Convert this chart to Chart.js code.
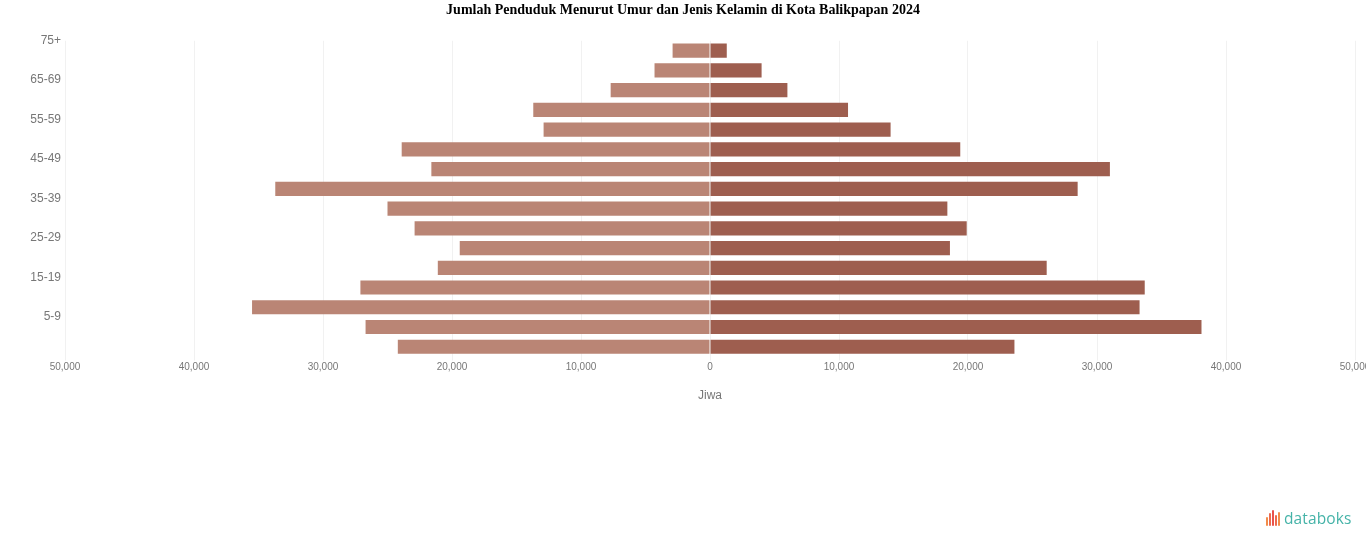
<!DOCTYPE html>
<html>
<head>
<meta charset="utf-8">
<script src="https://cdn.jsdelivr.net/npm/chart.js@4.4.0/dist/chart.umd.min.js"></script>
<style>
  html, body { margin: 0; padding: 0; background: #fff; }
  #wrap { position: relative; width: 1366px; height: 547px; }
  #logo { position: absolute; left: 1266px; top: 507px; height: 22px; display: flex; align-items: center; }
  #logo .icon { display: flex; align-items: flex-end; height: 16px; margin-right: 3px; }
  #logo .icon span { display: inline-block; width: 2px; margin-right: 1px; background: #ef5a4b; border-radius: 1px; }
  #logo .txt { font-family: "Open Sans", sans-serif; font-size: 15.5px; color: #45b3a8; letter-spacing: 0.1px; }
</style>
</head>
<body>
<div id="wrap">
  <canvas id="chart" width="1366" height="547"></canvas>
  <div id="logo">
    <div class="icon">
      <span style="height:9px;background:#f28c4a"></span>
      <span style="height:13px;background:#ee6a4d"></span>
      <span style="height:16px;background:#e9524b"></span>
      <span style="height:11px;background:#ee6a4d"></span>
      <span style="height:14px;background:#f28c4a"></span>
    </div>
    <div class="txt">databoks</div>
  </div>
</div>
<script>
// age groups, top row first
const ageGroups = ["75+", "70-74", "65-69", "60-64", "55-59", "50-54", "45-49", "40-44",
  "35-39", "30-34", "25-29", "20-24", "15-19", "10-14", "5-9", "0-4"]

// population (jiwa)
const lakiLaki = [2900, 4300, 7700, 13700, 12900, 23900, 21600, 33700,
  25000, 22900, 19400, 21100, 27100, 35500, 26700, 24200]
const perempuan = [1300, 4000, 6000, 10700, 14000, 19400, 31000, 28500,
  18400, 19900, 18600, 26100, 33700, 33300, 38100, 23600]

const xTicks = [-50000, -40000, -30000, -20000, -10000, 0, 10000, 20000, 30000, 40000, 50000]

const ctx = document.getElementById('chart').getContext('2d')
new Chart(ctx, {
  type: 'bar',
  data: {
    labels: ageGroups,
    datasets: [{
      label: 'Laki-laki',
      data: lakiLaki.map(v => -v),
      backgroundColor: 'rgb(186, 133, 117)'
    }, {
      label: 'Perempuan',
      data: perempuan,
      backgroundColor: 'rgb(158, 94, 79)'
    }]
  },
  options: {
    indexAxis: 'y',
    responsive: false,
    animation: false,
    layout: { padding: { left: 0, right: 0, bottom: 140 } },
    scales: {
      x: {
        stacked: true,
        min: xTicks[0],
        max: xTicks[xTicks.length - 1],
        afterBuildTicks: s => { s.ticks = xTicks.map(v => ({ value: v })) },
        // keep the 50,000 label close to the right edge like the original
        afterFit: s => { s.paddingRight = 11 },
        grid: { color: '#f1f1f1', tickLength: 4 },
        border: { display: false },
        ticks: {
          color: '#777',
          padding: 1,
          font: { family: 'Liberation Sans', size: 10 },
          callback: v => Math.abs(v).toLocaleString('en-US')
        },
        title: {
          display: true,
          text: 'Jiwa',
          color: '#777',
          padding: { top: 14, bottom: 4 },
          font: { family: 'Liberation Sans', size: 12 }
        }
      },
      y: {
        stacked: true,
        afterFit: s => { s.width = 65 },
        grid: { display: false, drawTicks: false },
        border: { display: false },
        ticks: {
          color: '#777',
          padding: 4,
          autoSkip: false,
          labelOffset: -10,
          font: { family: 'Liberation Sans', size: 12 },
          callback: function(value, index) {
            return index % 2 === 0 ? ageGroups[index] : ''
          }
        }
      }
    },
    plugins: {
      legend: { display: false },
      tooltip: {
        callbacks: {
          label: c => c.dataset.label + ': ' + Math.abs(c.raw).toLocaleString('en-US')
        }
      },
      title: {
        display: true,
        text: 'Jumlah Penduduk Menurut Umur dan Jenis Kelamin di Kota Balikpapan 2024',
        color: '#000',
        padding: { top: 2, bottom: 22 },
        font: { family: 'Liberation Serif', size: 14, weight: 'bold' }
      }
    }
  }
})
</script>
</body>
</html>
